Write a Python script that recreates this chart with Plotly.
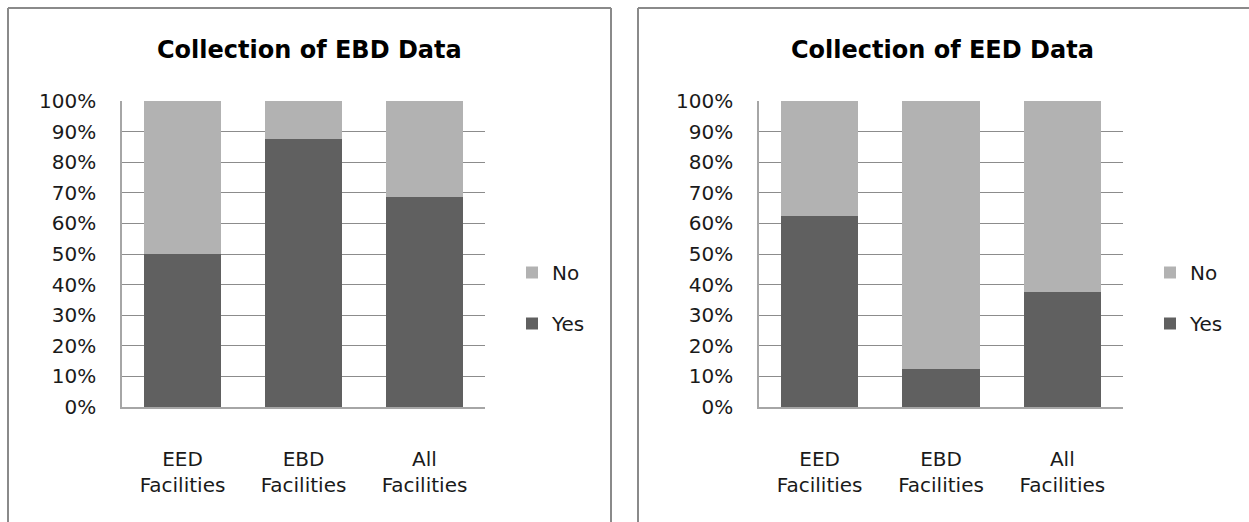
import plotly.graph_objects as go

W, H = 1249, 522

categories = ["EED<br>Facilities", "EBD<br>Facilities", "All<br>Facilities"]
ebd_yes = [0.50, 0.875, 0.6875]
ebd_no = [0.50, 0.125, 0.3125]
eed_yes = [0.625, 0.125, 0.375]
eed_no = [0.375, 0.875, 0.625]
titles = ["Collection of EBD Data", "Collection of EED Data"]
tick_vals = [0, 0.1, 0.2, 0.3, 0.4, 0.5, 0.6, 0.7, 0.8, 0.9, 1.0]

YES_C = "#606060"
NO_C = "#b2b2b2"
FONT = "'DejaVu Sans', sans-serif"
TXT = "#1a1a1a"


def px(x):
    return x / W


def py(y):
    return 1 - y / H


fig = go.Figure()

panels = [
    (ebd_yes, ebd_no, "x", "y", "legend"),
    (eed_yes, eed_no, "x2", "y2", "legend2"),
]
for yes, no, xa, ya, lg in panels:
    fig.add_trace(go.Bar(x=categories, y=yes, name="Yes", marker=dict(color=YES_C, line=dict(width=0)),
                         xaxis=xa, yaxis=ya, legend=lg, legendgroup=lg + "yes", legendrank=2))
    fig.add_trace(go.Bar(x=categories, y=no, name="No", marker=dict(color=NO_C, line=dict(width=0)),
                         xaxis=xa, yaxis=ya, legend=lg, legendgroup=lg + "no", legendrank=1))

yaxis_common = dict(
    range=[0, 1], tickvals=tick_vals, tickformat=".0%",
    showgrid=True, gridcolor="#8c8c8c", gridwidth=1,
    showline=True, linecolor="#a6a6a6", linewidth=1.5,
    ticks="", zeroline=False, ticklabelstandoff=20,
    tickfont=dict(family=FONT, size=20, color=TXT),
    fixedrange=True, automargin=False,
)
xaxis_common = dict(
    showgrid=False, showline=True, linecolor="#a6a6a6", linewidth=1.5,
    ticks="", ticklabelstandoff=33,
    tickfont=dict(family=FONT, size=20, color=TXT),
    fixedrange=True, automargin=False,
)

legend_common = dict(
    font=dict(family=FONT, size=20, color=TXT),
    traceorder="grouped", tracegroupgap=22,
    bgcolor="rgba(0,0,0,0)", xanchor="left", yanchor="middle",
    itemwidth=30,
)

fig.update_layout(
    width=W, height=H,
    margin=dict(l=0, r=0, t=0, b=0, pad=0, autoexpand=False),
    paper_bgcolor="white", plot_bgcolor="white",
    barmode="stack", bargap=0.36,
    xaxis=dict(domain=[px(122), px(485)], anchor="y", **xaxis_common),
    yaxis=dict(domain=[py(407), py(101)], anchor="x", **yaxis_common),
    xaxis2=dict(domain=[px(759), px(1123)], anchor="y2", **xaxis_common),
    yaxis2=dict(domain=[py(407), py(101)], anchor="x2", **yaxis_common),
    legend=dict(x=px(512), y=py(298), **legend_common),
    legend2=dict(x=px(1150), y=py(298), **legend_common),
    showlegend=True,
)

# chart titles
for cx, t in [(309, titles[0]), (943, titles[1])]:
    fig.add_annotation(x=px(cx), y=py(50), xref="paper", yref="paper", text="<b>" + t + "</b>",
                       showarrow=False, xanchor="center", yanchor="middle",
                       font=dict(family=FONT, size=24, color="#000000"))

# chart panel borders
border = dict(color="#8a8a8a", width=2)
for x0, x1 in [(8, 611), (638, 1260)]:
    fig.add_shape(type="line", xref="paper", yref="paper", x0=px(x0), x1=px(x0), y0=py(8), y1=py(530), line=border)
    fig.add_shape(type="line", xref="paper", yref="paper", x0=px(x0), x1=px(x1), y0=py(8), y1=py(8), line=border)
    fig.add_shape(type="line", xref="paper", yref="paper", x0=px(x1), x1=px(x1), y0=py(8), y1=py(530), line=border)

fig.write_html("out.html")
